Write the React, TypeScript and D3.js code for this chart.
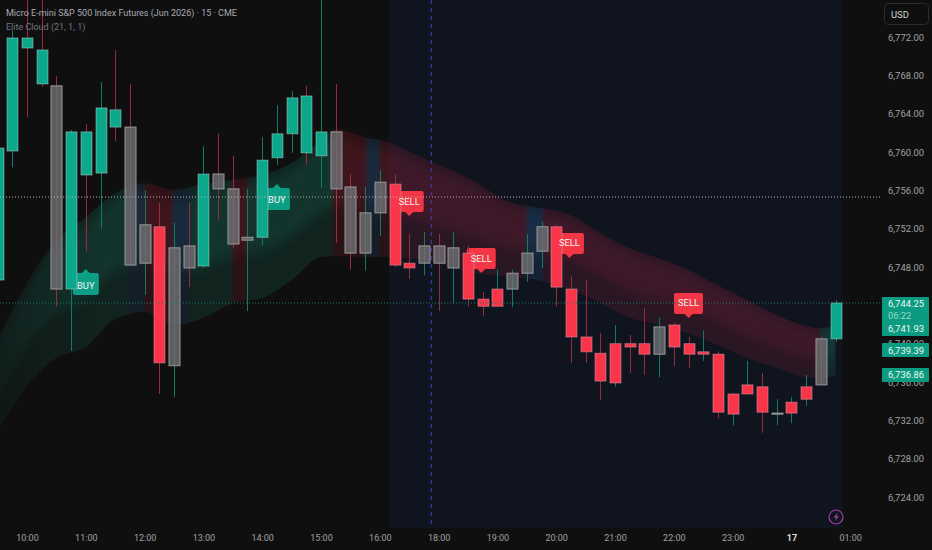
import React from "react";
import { select, scaleLinear, axisRight, axisBottom, area, curveMonotoneX, format } from "d3";

const WIDTH = 932;
const HEIGHT = 550;

// candles, one entry per 15 min bar, first bar has index -2
const firstBar = -2;
const bodyTops = [
  6760.42, 6771.9, 6771.9, 6770.65, 6766.9, 6762.1, 6762.1, 6764.6, 6764.4, 6762.6, 6752.4, 6752.2, 6750, 6750.2,
  6757.7, 6757.7, 6756.15, 6751.1, 6759.15, 6761.9, 6765.65, 6765.85, 6762.1, 6762.1, 6756.35, 6753.65, 6756.85,
  6756.65, 6748.4, 6750.2, 6750.2, 6750, 6749.45, 6744.65, 6745.7, 6747.35, 6749.45, 6752.2, 6752.2, 6745.7, 6740.7,
  6739, 6740, 6740, 6740, 6741.75, 6741.95, 6740, 6739.15, 6738.9, 6734.75, 6735.7, 6735.5, 6732.75, 6733.9, 6735.5,
  6740.5, 6744.25,
];
const bodyBottoms = [
  6746.64, 6760.1, 6770.85, 6767.1, 6745.7, 6745.7, 6757.6, 6757.8, 6762.6, 6748.2, 6748.4, 6738, 6737.7, 6747.9,
  6748.1, 6756.15, 6750.4, 6750.8, 6751.1, 6759.4, 6761.9, 6759.9, 6759.6, 6756.15, 6749.45, 6749.45, 6753.65, 6748.2,
  6747.9, 6748.4, 6748.4, 6747.9, 6744.65, 6743.9, 6743.9, 6745.7, 6747.35, 6749.65, 6745.9, 6740.7, 6739.15, 6736.1,
  6735.9, 6739.65, 6738.9, 6738.9, 6739.65, 6738.9, 6738.9, 6732.85, 6732.65, 6734.75, 6732.85, 6732.7, 6732.75,
  6734.2, 6735.7, 6740.5,
];
const highs = [
  6760.6, 6772.7, 6776.9, 6776.9, 6767.9, 6762.3, 6762.9, 6767.3, 6770.65, 6767.1, 6756, 6754.7, 6752.6, 6754.7,
  6760.6, 6761.9, 6759.6, 6756.15, 6761.55, 6764.9, 6766.35, 6766.9, 6776.9, 6767.1, 6757.7, 6756.35, 6758.1, 6757.7,
  6751.45, 6751.65, 6751.45, 6751.65, 6750.2, 6745.4, 6747.7, 6747.7, 6751.45, 6752.7, 6752.4, 6747, 6746.65, 6741.1,
  6741.95, 6740.9, 6743.7, 6742.7, 6742.15, 6740.7, 6741.4, 6739.15, 6734.75, 6738.2, 6736.95, 6734.2, 6734.45,
  6736.75, 6740.7, 6744.55,
];
const lows = [
  6746.4, 6758.4, 6763.65, 6766.8, 6743.9, 6739.25, 6749.65, 6752, 6761.15, 6748.1, 6745.1, 6734.75, 6734.45, 6745.9,
  6747.9, 6752.9, 6750, 6743.4, 6750.3, 6758.65, 6759.9, 6758.65, 6756.25, 6750.5, 6747.7, 6747.6, 6751.25, 6748,
  6746.75, 6747.15, 6743.4, 6744.15, 6743.9, 6742.9, 6743.9, 6743.8, 6746.45, 6747.9, 6743.9, 6738, 6738, 6734.1,
  6735.5, 6736.95, 6736.75, 6736.5, 6737.65, 6737.45, 6738.2, 6732.25, 6731.5, 6734.75, 6730.7, 6731.5, 6731.7, 6733.5,
  6735.7, 6740.2,
];
// g = green, r = red, n = neutral grey
const bodyKinds = [
  "gggg", "n", "gggg", "nn", "r", "nn", "g", "nnn", "ggggg", "nnnn", "rr", "nnn", "rrr", "nnn", "rrrrrrr", "n",
  "rrrrrrr", "n", "rr", "n", "g",
].join("").split("");
const wickKinds = [
  "gg", "rrr", "g", "r", "g", "rr", "g", "r", "g", "r", "g", "rr", "gggg", "r", "g", "rr", "gg", "rr", "g", "r", "g",
  "rr", "gggg", "rrrr", "g", "rr", "g", "rr", "g", "r", "gg", "r", "ggg", "r", "g",
].join("").split("");

// cloud edges
const cloudBars = [-2, 0, 2, 4, 6, 8, 10, 12, 14, 16, 18, 20, 21, 23, 24.5, 27, 30, 33, 35, 37, 39, 41, 43, 45, 47, 49, 51, 53, 54, 55];
const cloudUpper = [
  6740.6, 6746.3, 6750.8, 6753.2, 6755.7, 6756.75, 6756.05, 6756.65, 6757.1, 6757.6, 6758.85, 6761.25, 6762.4, 6761.55,
  6761.05, 6759.35, 6757.3, 6754.7, 6754.15, 6753.4, 6751.55, 6749.95, 6748.9, 6747.7, 6746.1, 6744.55, 6743, 6741.85,
  6741.6, 6741.95,
];
const cloudLower = [
  6731, 6735.6, 6738.5, 6739.65, 6742.6, 6743.3, 6741.95, 6742.7, 6744.25, 6744.75, 6746.65, 6749.05, 6749.15, 6749.05,
  6749.05, 6748.75, 6747.5, 6746.95, 6746.55, 6745.6, 6744.25, 6742.7, 6741.95, 6741.1, 6739.85, 6738.5, 6737.45,
  6736.5, 6736.4, 6736.7,
];
// colour of the cloud between bar indexes
const zoneEnds = [6.9, 8, 9.9, 11.1, 14, 15, 20.8, 23.1, 24, 34, 35.1, 54, 56];
const zoneKinds = ["g", "b", "r", "b", "g", "r", "g", "r", "b", "r", "b", "r", "g"];

const priceTicks = [6772, 6768, 6764, 6760, 6756, 6752, 6748, 6744, 6740, 6736, 6732, 6728, 6724];
const timeBars = [0, 4, 8, 12, 16, 20, 24, 28, 32, 36, 40, 44, 48, 52, 56];
const timeLabels = ["10:00", "11:00", "12:00", "13:00", "14:00", "15:00", "16:00", "18:00", "19:00", "20:00", "21:00", "22:00", "23:00", "17", "01:00"];

const buyBars = [4, 17];
const buyPrices = [6747.37, 6756.25];
const sellBars = [26, 30.9, 36.9, 45];
const sellPrices = [6755.93, 6749.98, 6751.55, 6745.3];

const whiteLinePrice = 6755.3;
const lastPrice = 6744.25;
const sessionStart = 24.6;
const sessionEnd = 55.5;
const sessionBreak = 27.5;

const FONT = "Roboto, sans-serif";
const AXIS_SIZE = 9.4;
const TEXT_SIZE = 9;

export default function App() {
  const svgRef = React.useRef<SVGSVGElement | null>(null);

  React.useEffect(() => {
    const svg = select(svgRef.current);
    svg.selectAll("*").remove();

    const x = scaleLinear().domain([0, 55]).range([27, 835.5]);
    const y = scaleLinear().domain([6772, 6724]).range([37, 497]);
    const paneBottom = 528;
    const paneRight = 882;

    svg.append("rect").attr("width", WIDTH).attr("height", HEIGHT).attr("fill", "#0f0f0f");
    svg
      .append("rect")
      .attr("x", x(sessionStart))
      .attr("width", x(sessionEnd) - x(sessionStart))
      .attr("height", paneBottom)
      .attr("fill", "#10141f");

    // cloud
    const defs = svg.append("defs");
    const hue: Record<string, string> = { g: "#1f8a72", b: "#2f6aa0", r: "#a8283f" };
    const grad = defs
      .append("linearGradient")
      .attr("id", "cloudHue")
      .attr("gradientUnits", "userSpaceOnUse")
      .attr("x1", 0)
      .attr("x2", WIDTH)
      .attr("y1", 0)
      .attr("y2", 0);
    let from = -3;
    zoneEnds.forEach((end, i) => {
      const c = hue[zoneKinds[i]];
      grad.append("stop").attr("offset", x(from) / WIDTH + 0.002).attr("stop-color", c);
      grad.append("stop").attr("offset", x(end) / WIDTH - 0.002).attr("stop-color", c);
      from = end;
    });
    const fade = defs
      .append("linearGradient")
      .attr("id", "cloudFade")
      .attr("gradientUnits", "userSpaceOnUse")
      .attr("x1", 0)
      .attr("x2", 100)
      .attr("y1", 0)
      .attr("y2", 0);
    fade.append("stop").attr("offset", 0).attr("stop-color", "#fff").attr("stop-opacity", 0.45);
    fade.append("stop").attr("offset", 1).attr("stop-color", "#fff").attr("stop-opacity", 1);
    defs
      .append("mask")
      .attr("id", "cloudMask")
      .attr("maskUnits", "userSpaceOnUse")
      .attr("x", 0)
      .attr("y", 0)
      .attr("width", WIDTH)
      .attr("height", HEIGHT)
      .append("rect")
      .attr("width", WIDTH)
      .attr("height", HEIGHT)
      .attr("fill", "url(#cloudFade)");
    defs
      .append("filter")
      .attr("id", "cloudBlur")
      .attr("filterUnits", "userSpaceOnUse")
      .attr("x", -40)
      .attr("y", 0)
      .attr("width", WIDTH + 80)
      .attr("height", HEIGHT)
      .append("feGaussianBlur")
      .attr("stdDeviation", "2 7");

    const cloudBand = (a: number, b: number) =>
      area<number>()
        .x((d) => x(d))
        .y0((_, i) => y(cloudUpper[i] + (cloudLower[i] - cloudUpper[i]) * b))
        .y1((_, i) => y(cloudUpper[i] + (cloudLower[i] - cloudUpper[i]) * a))
        .curve(curveMonotoneX)(cloudBars);

    defs.append("clipPath").attr("id", "cloudClip").append("path").attr("d", cloudBand(0, 1));

    const cloud = svg.append("g").attr("mask", "url(#cloudMask)");
    cloud.append("path").attr("d", cloudBand(0, 1)).attr("fill", "url(#cloudHue)").attr("opacity", 0.17);
    cloud
      .append("g")
      .attr("clip-path", "url(#cloudClip)")
      .append("path")
      .attr("d", cloudBand(0.06, 0.62))
      .attr("fill", "url(#cloudHue)")
      .attr("opacity", 0.17)
      .attr("filter", "url(#cloudBlur)");

    // session break
    svg
      .append("line")
      .attr("x1", x(sessionBreak))
      .attr("x2", x(sessionBreak))
      .attr("y1", 0)
      .attr("y2", paneBottom)
      .attr("stroke", "#4044b0")
      .attr("stroke-dasharray", "4 4");

    // signal labels sit behind the candles
    const buyG = svg.append("g");
    buyBars.forEach((b, i) => {
      const cx = x(b);
      const top = y(buyPrices[i]);
      buyG
        .append("path")
        .attr("d", `M${cx - 13} ${top + 2}a2 2 0 0 1 2 -2H${cx - 4}L${cx} ${top - 4}L${cx + 4} ${top}H${cx + 11}a2 2 0 0 1 2 2V${top + 20}a2 2 0 0 1 -2 2H${cx - 11}a2 2 0 0 1 -2 -2Z`)
        .attr("fill", "#0c9f85");
    });
    const sellG = svg.append("g");
    sellBars.forEach((b, i) => {
      const cx = x(b);
      const top = y(sellPrices[i]);
      sellG
        .append("path")
        .attr("d", `M${cx - 14.5} ${top + 2}a2 2 0 0 1 2 -2H${cx + 12.5}a2 2 0 0 1 2 2V${top + 19}a2 2 0 0 1 -2 2H${cx + 4}L${cx} ${top + 25}L${cx - 4} ${top + 21}H${cx - 12.5}a2 2 0 0 1 -2 -2Z`)
        .attr("fill", "#f23645");
    });

    // candles
    const colors: Record<string, string> = { g: "#0da78b", r: "#f93549", n: "rgba(112,112,116,0.8)" };
    const borders: Record<string, string> = { g: "rgba(190,225,215,0.45)", r: "rgba(215,150,160,0.55)", n: "#989898" };
    const wicks: Record<string, string> = { g: "#0f7a66", r: "#9a2a3e" };
    const bars = bodyTops.map((t, i) => ({
      bar: firstBar + i,
      top: t,
      bottom: bodyBottoms[i],
      high: highs[i],
      low: lows[i],
      kind: bodyKinds[i],
      wick: wickKinds[i],
    }));
    svg
      .append("g")
      .selectAll("line")
      .data(bars)
      .join("line")
      .attr("x1", (d) => Math.round(x(d.bar)) + 0.5)
      .attr("x2", (d) => Math.round(x(d.bar)) + 0.5)
      .attr("y1", (d) => y(d.high))
      .attr("y2", (d) => y(d.low))
      .attr("stroke", (d) => wicks[d.wick]);
    svg
      .append("g")
      .selectAll("rect")
      .data(bars)
      .join("rect")
      .attr("x", (d) => Math.round(x(d.bar)) - 5)
      .attr("width", 11)
      .attr("y", (d) => y(d.top))
      .attr("height", (d) => Math.max(y(d.bottom) - y(d.top), 1))
      .attr("fill", (d) => colors[d.kind])
      .attr("stroke", (d) => borders[d.kind])
      .attr("stroke-width", 1);

    // dotted lines
    svg
      .append("line")
      .attr("x1", 0)
      .attr("x2", paneRight)
      .attr("y1", y(whiteLinePrice))
      .attr("y2", y(whiteLinePrice))
      .attr("stroke", "#b5b5b5")
      .attr("stroke-dasharray", "1 2");
    svg
      .append("line")
      .attr("x1", 0)
      .attr("x2", paneRight)
      .attr("y1", y(lastPrice))
      .attr("y2", y(lastPrice))
      .attr("stroke", "#1d7c6b")
      .attr("stroke-dasharray", "1 2");

    // label texts
    const labelText = (g: any, cx: number, cy: number, t: string) =>
      g
        .append("text")
        .attr("x", cx)
        .attr("y", cy)
        .attr("text-anchor", "middle")
        .attr("dominant-baseline", "central")
        .attr("fill", "#f0f5f3")
        .attr("font-size", AXIS_SIZE)
        .attr("font-family", FONT)
        .text(t);
    buyBars.forEach((b, i) => labelText(svg, x(b), y(buyPrices[i]) + 12, "BUY"));
    sellBars.forEach((b, i) => labelText(svg, x(b), y(sellPrices[i]) + 10, "SELL"));

    // axes
    const yAxis = svg
      .append("g")
      .attr("transform", "translate(888,0)")
      .call(
        axisRight(y)
          .tickValues(priceTicks)
          .tickSize(0)
          .tickPadding(0)
          .tickFormat((d) => format(",.2f")(+d))
      );
    yAxis.select(".domain").remove();
    yAxis.selectAll("text").attr("fill", "#a3a3a3").attr("font-size", AXIS_SIZE).attr("font-family", FONT);

    const xAxis = svg
      .append("g")
      .attr("transform", "translate(0,535)")
      .call(
        axisBottom(x)
          .tickValues(timeBars)
          .tickSize(0)
          .tickPadding(0)
          .tickFormat((_, i) => timeLabels[i])
      );
    xAxis.select(".domain").remove();
    xAxis
      .selectAll("text")
      .attr("fill", (_, i) => (timeLabels[i] === "17" ? "#e2e2e2" : "#a0a0a0"))
      .attr("font-weight", (_, i) => (timeLabels[i] === "17" ? 600 : 400))
      .attr("font-size", TEXT_SIZE)
      .attr("font-family", FONT);

    // price tags on the right
    const tagGreen = "#0a9b80";
    svg.append("rect").attr("x", 882).attr("y", 297).attr("width", 47).attr("height", 39).attr("rx", 1).attr("fill", tagGreen);
    svg.append("rect").attr("x", 882).attr("y", 343).attr("width", 47).attr("height", 14).attr("rx", 1).attr("fill", tagGreen);
    svg.append("rect").attr("x", 882).attr("y", 368).attr("width", 47).attr("height", 14).attr("rx", 1).attr("fill", tagGreen);
    const tags: [string, number, string][] = [
      ["6,744.25", 303, "#f2f7f5"],
      ["06:22", 315, "#9fd8cb"],
      ["6,741.93", 328, "#f2f7f5"],
      ["6,739.39", 350, "#f2f7f5"],
      ["6,736.86", 374.5, "#f2f7f5"],
    ];
    tags.forEach(([t, ty, c]) =>
      svg
        .append("text")
        .attr("x", 888)
        .attr("y", ty)
        .attr("dominant-baseline", "central")
        .attr("fill", c)
        .attr("font-size", AXIS_SIZE)
        .attr("font-family", FONT)
        .text(t)
    );

    // currency button
    svg
      .append("rect")
      .attr("x", 884.5)
      .attr("y", 3.5)
      .attr("width", 44)
      .attr("height", 21)
      .attr("rx", 4)
      .attr("fill", "none")
      .attr("stroke", "#2b2b2b");
    svg
      .append("text")
      .attr("x", 891)
      .attr("y", 14)
      .attr("dominant-baseline", "central")
      .attr("fill", "#d6d6d6")
      .attr("font-size", AXIS_SIZE)
      .attr("font-family", FONT)
      .text("USD");

    // title
    svg
      .append("text")
      .attr("x", 6)
      .attr("y", 13)
      .attr("dominant-baseline", "central")
      .attr("fill", "#a9abb3")
      .attr("font-size", TEXT_SIZE)
      .attr("font-family", FONT)
      .text("Micro E-mini S&P 500 Index Futures (Jun 2026) · 15 · CME");
    svg
      .append("text")
      .attr("x", 6)
      .attr("y", 27)
      .attr("dominant-baseline", "central")
      .attr("fill", "#74767f")
      .attr("font-size", TEXT_SIZE)
      .attr("font-family", FONT)
      .text("Elite Cloud (21, 1, 1)");

    // lightning badge
    svg
      .append("circle")
      .attr("cx", 836)
      .attr("cy", 517)
      .attr("r", 7)
      .attr("fill", "none")
      .attr("stroke", "#9b3f9f")
      .attr("stroke-width", 1.2);
    svg
      .append("path")
      .attr("d", "M837.8 512.4L833.4 517.6H836L834.8 521.6L839 516.2H836.4Z")
      .attr("fill", "#9b3f9f");
  }, []);

  return <svg ref={svgRef} width={WIDTH} height={HEIGHT} style={{ position: "fixed", left: 0, top: 0 }} />;
}
